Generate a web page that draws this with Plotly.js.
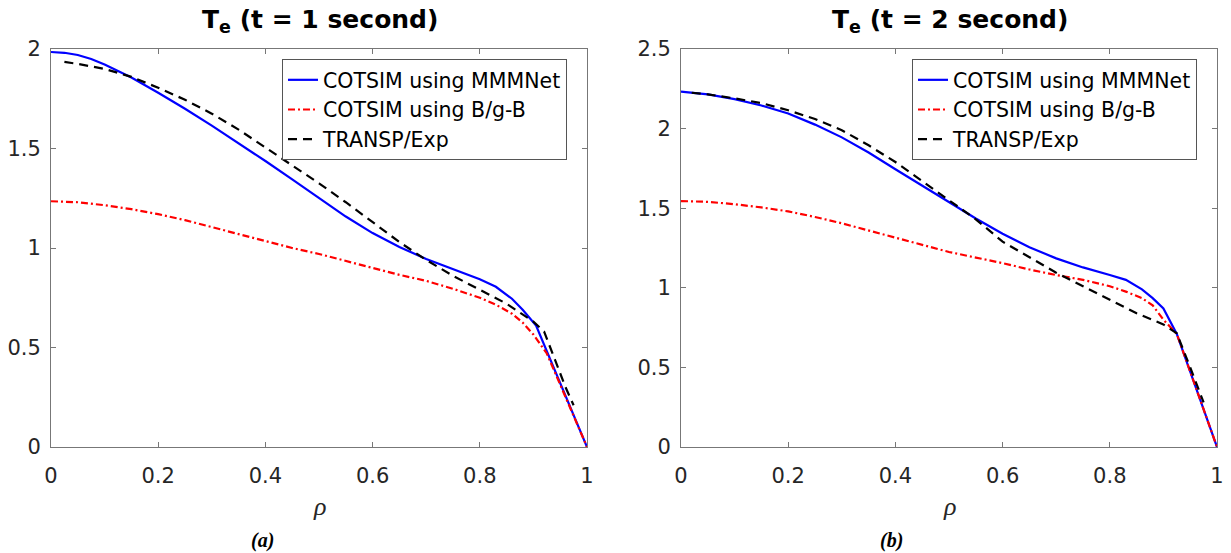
<!DOCTYPE html>
<html>
<head>
<meta charset="utf-8">
<script src="https://cdn.plot.ly/plotly-3.0.1.min.js"></script>
<style>html,body{margin:0;padding:0;background:#fff;}#chart{width:1231px;height:553px;}</style>
</head>
<body>
<div id="chart"></div>
<script>
// ---- Data ----
// Panel (a): t = 1 second
const rhoA_mmm = [0, 0.025, 0.05, 0.075, 0.1, 0.125, 0.15, 0.2, 0.25, 0.3, 0.35, 0.4, 0.45, 0.5, 0.55, 0.6, 0.65, 0.7, 0.75, 0.8, 0.83, 0.86, 0.88, 0.905, 1.0];
const teA_mmm  = [1.985, 1.981, 1.97, 1.95, 1.922, 1.891, 1.857, 1.78, 1.70, 1.615, 1.527, 1.437, 1.345, 1.25, 1.158, 1.075, 1.005, 0.945, 0.892, 0.843, 0.805, 0.745, 0.69, 0.61, 0.0];
const rhoA_bgb = [0, 0.05, 0.1, 0.15, 0.2, 0.25, 0.3, 0.35, 0.4, 0.45, 0.5, 0.55, 0.6, 0.65, 0.7, 0.75, 0.8, 0.83, 0.86, 0.88, 0.9, 0.925, 1.0];
const teA_bgb  = [1.235, 1.23, 1.215, 1.195, 1.17, 1.14, 1.105, 1.07, 1.035, 1.0, 0.97, 0.935, 0.90, 0.865, 0.835, 0.795, 0.75, 0.715, 0.67, 0.625, 0.565, 0.47, 0.0];
const rhoA_exp = [0.025, 0.05, 0.1, 0.15, 0.2, 0.25, 0.3, 0.35, 0.4, 0.45, 0.5, 0.55, 0.6, 0.65, 0.7, 0.75, 0.8, 0.85, 0.9, 0.92, 0.94, 0.96, 0.975];
const teA_exp  = [1.935, 1.925, 1.90, 1.86, 1.805, 1.745, 1.675, 1.595, 1.505, 1.415, 1.325, 1.23, 1.13, 1.03, 0.94, 0.86, 0.79, 0.72, 0.63, 0.58, 0.44, 0.30, 0.21];

// Panel (b): t = 2 second
const rhoB_mmm = [0, 0.05, 0.1, 0.15, 0.2, 0.25, 0.3, 0.35, 0.4, 0.45, 0.5, 0.55, 0.6, 0.65, 0.7, 0.75, 0.8, 0.83, 0.86, 0.88, 0.9, 0.925, 1.0];
const teB_mmm  = [2.232, 2.215, 2.185, 2.145, 2.095, 2.025, 1.945, 1.85, 1.745, 1.64, 1.535, 1.435, 1.34, 1.255, 1.185, 1.128, 1.08, 1.05, 0.99, 0.935, 0.87, 0.71, 0.0];
const rhoB_bgb = [0, 0.05, 0.1, 0.15, 0.2, 0.25, 0.3, 0.35, 0.4, 0.45, 0.5, 0.55, 0.6, 0.65, 0.7, 0.75, 0.8, 0.83, 0.86, 0.88, 0.9, 0.925, 1.0];
const teB_bgb  = [1.545, 1.54, 1.525, 1.505, 1.48, 1.445, 1.405, 1.36, 1.315, 1.27, 1.225, 1.19, 1.155, 1.115, 1.08, 1.05, 1.01, 0.976, 0.935, 0.89, 0.80, 0.71, 0.0];
const rhoB_exp = [0.02, 0.05, 0.1, 0.15, 0.2, 0.25, 0.3, 0.35, 0.4, 0.45, 0.5, 0.55, 0.6, 0.65, 0.7, 0.75, 0.8, 0.85, 0.9, 0.925, 0.95, 0.975];
const teB_exp  = [2.225, 2.215, 2.19, 2.16, 2.115, 2.06, 1.99, 1.895, 1.79, 1.67, 1.55, 1.43, 1.29, 1.19, 1.095, 1.01, 0.925, 0.84, 0.77, 0.714, 0.50, 0.28];

const seriesNames = ['COTSIM using MMMNet', 'COTSIM using B/g-B', 'TRANSP/Exp'];
const panelTitles = ['<b>T<sub>e</sub> (t = 1 second)</b>', '<b>T<sub>e</sub> (t = 2 second)</b>'];
const panelTags = ['<b><i>(a)</i></b>', '<b><i>(b)</i></b>'];
const xTickVals = [0, 0.2, 0.4, 0.6, 0.8, 1];
const xTickText = ['0', '0.2', '0.4', '0.6', '0.8', '1'];
const yTickValsA = [0, 0.5, 1, 1.5, 2];
const yTickTextA = ['0', '0.5', '1', '1.5', '2'];
const yTickValsB = [0, 0.5, 1, 1.5, 2, 2.5];
const yTickTextB = ['0', '0.5', '1', '1.5', '2', '2.5'];

// ---- Styles ----
const W = 1231, H = 553;
const px = v => v / W, py = v => 1 - v / H;
const styles = [
  {color: '#0000ff', width: 2.2, dash: 'solid'},
  {color: '#ff0000', width: 2.2, dash: '7px,3px,2px,3px'},
  {color: '#000000', width: 2.2, dash: '9px,6px'}
];

function tr(x, y, i, xa, ya, lg) {
  return {x: x, y: y, type: 'scatter', mode: 'lines', name: seriesNames[i],
    xaxis: xa, yaxis: ya, legend: lg, line: styles[i]};
}

const data = [
  tr(rhoA_mmm, teA_mmm, 0, 'x', 'y', 'legend'),
  tr(rhoA_bgb, teA_bgb, 1, 'x', 'y', 'legend'),
  tr(rhoA_exp, teA_exp, 2, 'x', 'y', 'legend'),
  tr(rhoB_mmm, teB_mmm, 0, 'x2', 'y2', 'legend2'),
  tr(rhoB_bgb, teB_bgb, 1, 'x2', 'y2', 'legend2'),
  tr(rhoB_exp, teB_exp, 2, 'x2', 'y2', 'legend2')
];

const tickFont = {family: 'DejaVu Sans', size: 21, color: '#262626'};
const axisCommon = {
  showline: true, linecolor: '#777', linewidth: 1, mirror: 'ticks',
  ticks: 'inside', ticklen: 5, tickwidth: 1, tickcolor: '#777',
  showgrid: false, zeroline: false, tickfont: tickFont, fixedrange: true
};

const legendCommon = {
  bgcolor: '#ffffff', bordercolor: '#555', borderwidth: 1,
  font: {family: 'DejaVu Sans', size: 20.5, color: '#000'},
  xanchor: 'left', yanchor: 'top', tracegroupgap: 0, itemwidth: 30
};

const titleFont = {family: 'DejaVu Sans', size: 25, color: '#000'};
const rhoFont = {family: 'Liberation Serif', size: 26, color: '#262626'};
const tagFont = {family: 'Liberation Serif', size: 20, color: '#000'};

const layout = {
  width: W, height: H,
  margin: {l: 0, r: 0, t: 0, b: 0},
  paper_bgcolor: '#fff', plot_bgcolor: '#fff',
  showlegend: true,
  xaxis: Object.assign({}, axisCommon, {domain: [px(51), px(587)], range: [0, 1], tickvals: xTickVals, ticktext: xTickText, anchor: 'y', ticklabelstandoff: 10}),
  yaxis: Object.assign({}, axisCommon, {domain: [py(447), py(49)], range: [0, 2], tickvals: yTickValsA, ticktext: yTickTextA, anchor: 'x', ticklabelstandoff: 5}),
  xaxis2: Object.assign({}, axisCommon, {domain: [px(681), px(1217)], range: [0, 1], tickvals: xTickVals, ticktext: xTickText, anchor: 'y2', ticklabelstandoff: 10}),
  yaxis2: Object.assign({}, axisCommon, {domain: [py(447), py(49)], range: [0, 2.5], tickvals: yTickValsB, ticktext: yTickTextB, anchor: 'x2', ticklabelstandoff: 5}),
  legend: Object.assign({}, legendCommon, {x: px(282), y: py(59)}),
  legend2: Object.assign({}, legendCommon, {x: px(912), y: py(59)}),
  annotations: [
    {text: panelTitles[0], xref: 'paper', yref: 'paper', x: px(320), y: py(21), xanchor: 'center', yanchor: 'middle', showarrow: false, font: titleFont},
    {text: panelTitles[1], xref: 'paper', yref: 'paper', x: px(950), y: py(21), xanchor: 'center', yanchor: 'middle', showarrow: false, font: titleFont},
    {text: '<i>ρ</i>', xref: 'paper', yref: 'paper', x: px(319), y: py(506), xanchor: 'center', yanchor: 'middle', showarrow: false, font: rhoFont},
    {text: '<i>ρ</i>', xref: 'paper', yref: 'paper', x: px(949), y: py(506), xanchor: 'center', yanchor: 'middle', showarrow: false, font: rhoFont},
    {text: panelTags[0], xref: 'paper', yref: 'paper', x: px(262), y: py(540), xanchor: 'center', yanchor: 'middle', showarrow: false, font: tagFont},
    {text: panelTags[1], xref: 'paper', yref: 'paper', x: px(891), y: py(540), xanchor: 'center', yanchor: 'middle', showarrow: false, font: tagFont}
  ]
};

Plotly.newPlot('chart', data, layout, {staticPlot: true, displayModeBar: false});
</script>
</body>
</html>
